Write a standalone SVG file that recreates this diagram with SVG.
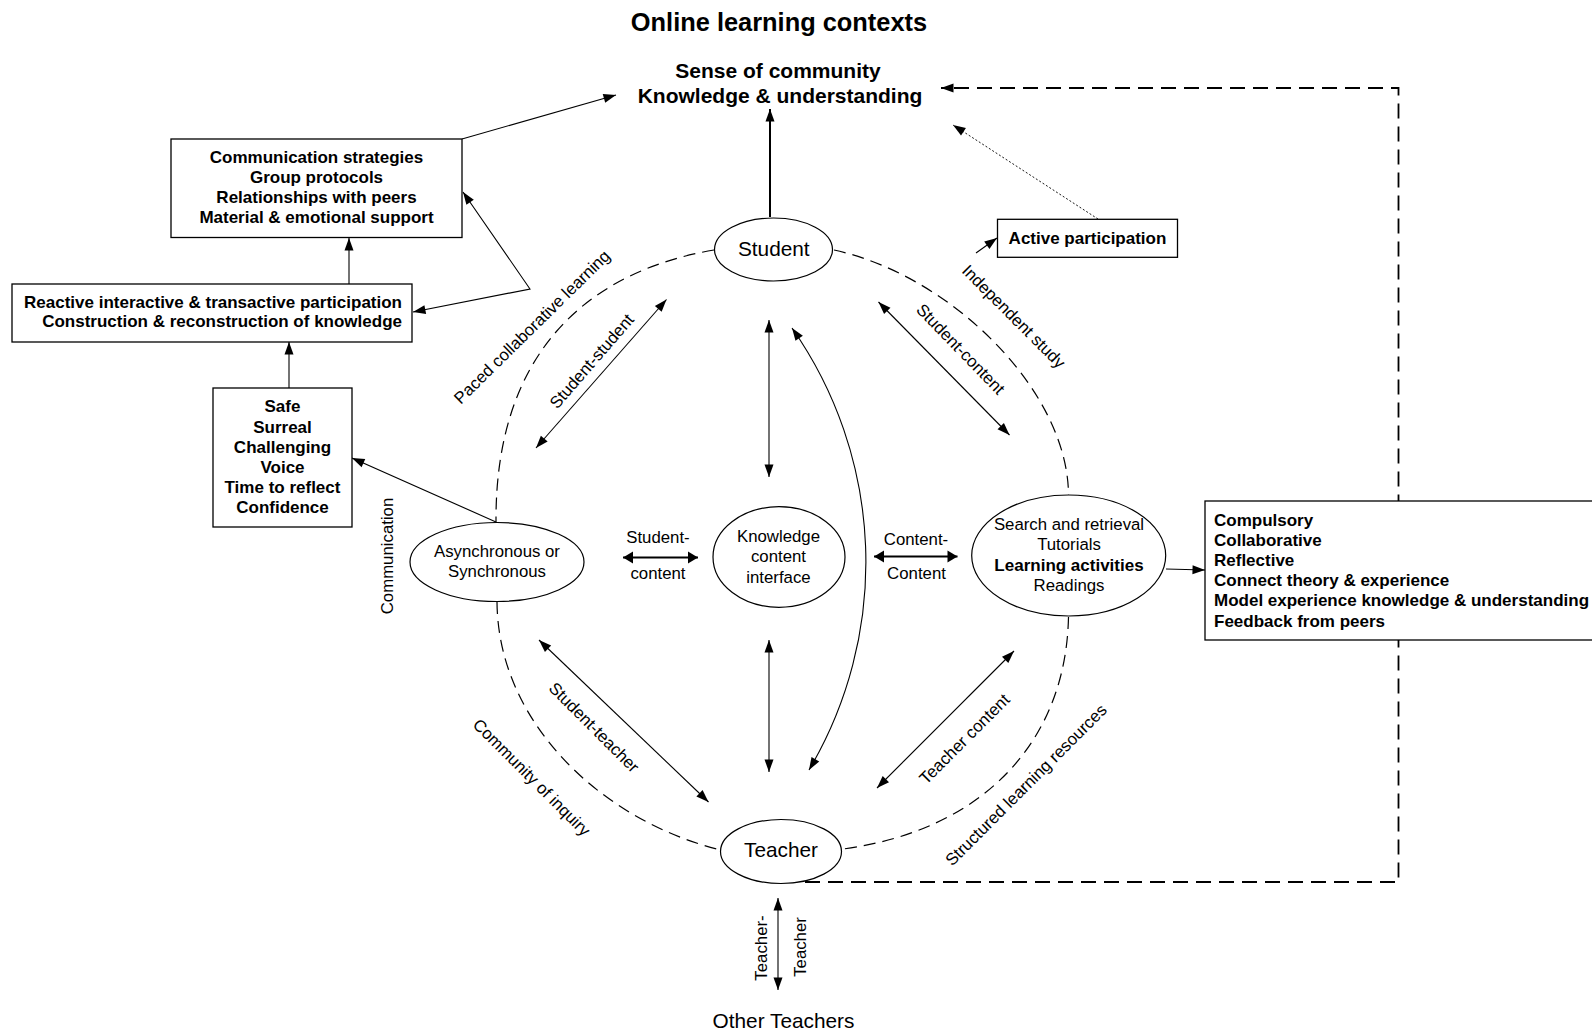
<svg xmlns="http://www.w3.org/2000/svg" width="1592" height="1036" viewBox="0 0 1592 1036">
  <style>
    text { font-family: "Liberation Sans", Arial, sans-serif; fill: #000; }
    .title { font-size: 25.4px; font-weight: bold; text-anchor: middle; }
    .goal { font-size: 21px; font-weight: bold; text-anchor: middle; }
    .big { font-size: 20.8px; text-anchor: middle; }
    .lbl { font-size: 16.8px; text-anchor: middle; }
    .bold { font-size: 17px; font-weight: bold; }
    .mid { text-anchor: middle; }
    .node { fill: #fff; stroke: #000; stroke-width: 1.2; }
    .box { fill: #fff; stroke: #000; stroke-width: 1.3; }
    .link { fill: none; stroke: #000; stroke-width: 1.1; }
    .thick { fill: none; stroke: #000; stroke-width: 2; }
    .ring { fill: none; stroke: #000; stroke-width: 1.2; stroke-dasharray: 12 7; }
    .loop { fill: none; stroke: #000; stroke-width: 1.8; stroke-dasharray: 15 8; }
    .dots { fill: none; stroke: #000; stroke-width: 0.9; stroke-dasharray: 2 2; }
  </style>
  <defs>
    <marker id="ah" markerUnits="userSpaceOnUse" markerWidth="13" markerHeight="10" refX="12.5" refY="4.5" orient="auto-start-reverse" overflow="visible">
      <path d="M0,0 L12.5,4.5 L0,9 z" fill="#000"/>
    </marker>
    <marker id="ahw" markerUnits="userSpaceOnUse" markerWidth="11" markerHeight="12" refX="10" refY="6" orient="auto-start-reverse" overflow="visible">
      <path d="M0,0 L10,6 L0,12 z" fill="#000"/>
    </marker>
  </defs>

  <rect width="1592" height="1036" fill="#fff"/>

  <!-- headings -->
  <text class="title" x="779" y="31">Online learning contexts</text>
  <g id="outcomes">
    <text class="goal" x="778" y="78">Sense of community</text>
    <text class="goal" x="780" y="103">Knowledge &amp; understanding</text>
  </g>

  <!-- connectors -->
  <g id="connectors">
    <!-- dashed ring linking the four modes -->
    <path class="ring" d="M714,250 C585,272 495,355 496,522"/>
    <path class="ring" d="M497,602 C498,725 605,822 721,850"/>
    <path class="ring" d="M834,250 C950,275 1068,390 1068.5,495"/>
    <path class="ring" d="M1068.5,617 C1066,740 985,830 843,849"/>

    <!-- feedback loop back to outcomes -->
    <polyline class="loop" points="782,882 1398.5,882 1398.5,88 941,88" marker-end="url(#ah)"/>

    <!-- student to outcomes -->
    <line class="thick" x1="770" y1="217" x2="770" y2="109" marker-end="url(#ah)"/>

    <!-- left chain -->
    <line class="link" x1="462" y1="139" x2="616" y2="95" marker-end="url(#ah)"/>
    <line class="link" x1="349" y1="284" x2="349" y2="238" marker-end="url(#ah)"/>
    <polyline class="link" points="463,192 530,289 413,312" marker-start="url(#ah)" marker-end="url(#ah)"/>
    <line class="link" x1="289" y1="388" x2="289" y2="342" marker-end="url(#ah)"/>
    <line class="link" x1="496" y1="522" x2="352" y2="458" marker-end="url(#ah)"/>

    <!-- active participation -->
    <line class="link" x1="976" y1="253" x2="997" y2="238" marker-end="url(#ah)"/>
    <line class="dots" x1="1098" y1="219" x2="953" y2="125" marker-end="url(#ah)"/>

    <!-- interactions inside the ring -->
    <line class="link" x1="536" y1="448" x2="666.5" y2="299.5" marker-start="url(#ah)" marker-end="url(#ah)"/>
    <line class="link" x1="878.5" y1="302" x2="1009.5" y2="435" marker-start="url(#ah)" marker-end="url(#ah)"/>
    <line class="link" x1="539" y1="640" x2="708.5" y2="802" marker-start="url(#ah)" marker-end="url(#ah)"/>
    <line class="link" x1="877" y1="788" x2="1014" y2="651" marker-start="url(#ah)" marker-end="url(#ah)"/>
    <line class="link" x1="769" y1="320" x2="769" y2="477" marker-start="url(#ah)" marker-end="url(#ah)"/>
    <line class="link" x1="769" y1="640" x2="769" y2="772" marker-start="url(#ah)" marker-end="url(#ah)"/>
    <path class="link" d="M792,328 A408,408 0 0 1 809,770" marker-start="url(#ah)" marker-end="url(#ah)"/>
    <line class="thick" x1="623" y1="557.5" x2="698" y2="557.5" marker-start="url(#ahw)" marker-end="url(#ahw)"/>
    <line class="thick" x1="874" y1="556.5" x2="957.5" y2="556.5" marker-start="url(#ahw)" marker-end="url(#ahw)"/>
    <line class="link" x1="1166" y1="569" x2="1205" y2="570" marker-end="url(#ah)"/>

    <!-- teacher to other teachers -->
    <line class="link" x1="778" y1="898" x2="778" y2="990" stroke-width="1.4" marker-start="url(#ah)" marker-end="url(#ah)"/>

    <!-- connector labels -->
    <text class="lbl" transform="translate(536,331) rotate(-44.5)">Paced collaborative learning</text>
    <text class="lbl" transform="translate(596,365) rotate(-49)">Student-student</text>
    <text class="lbl" transform="translate(956.5,353) rotate(46)">Student-content</text>
    <text class="lbl" transform="translate(1009.7,320.5) rotate(45)">Independent study</text>
    <text class="lbl" transform="translate(392.5,556) rotate(-90)">Communication</text>
    <text class="lbl" transform="translate(527.6,781.4) rotate(45)">Community of inquiry</text>
    <text class="lbl" transform="translate(590,731.4) rotate(45)">Student-teacher</text>
    <text class="lbl" transform="translate(968.5,743) rotate(-45)">Teacher content</text>
    <text class="lbl" transform="translate(1030,789) rotate(-45)">Structured learning resources</text>
    <text class="lbl" x="658" y="543.3">Student-</text>
    <text class="lbl" x="658" y="579.3">content</text>
    <text class="lbl" x="916" y="545">Content-</text>
    <text class="lbl" x="916.5" y="579.3">Content</text>
    <text class="lbl" transform="translate(767,948) rotate(-90)">Teacher-</text>
    <text class="lbl" transform="translate(806,947) rotate(-90)">Teacher</text>
  </g>

  <!-- boxes -->
  <g id="communication-box">
    <rect class="box" x="171" y="139" width="291" height="98.5"/>
    <text class="bold mid" x="316.5" y="163.3">Communication strategies</text>
    <text class="bold mid" x="316.5" y="183.3">Group protocols</text>
    <text class="bold mid" x="316.5" y="203.3">Relationships with peers</text>
    <text class="bold mid" x="316.5" y="223.3">Material &amp; emotional support</text>
  </g>

  <g id="participation-box">
    <rect class="box" x="12" y="284" width="400" height="58"/>
    <text class="bold" x="402" y="307.7" text-anchor="end">Reactive interactive &amp; transactive participation</text>
    <text class="bold" x="402" y="327.3" text-anchor="end">Construction &amp; reconstruction of knowledge</text>
  </g>

  <g id="qualities-box">
    <rect class="box" x="213" y="388" width="139" height="139"/>
    <text class="bold mid" x="282.5" y="411.7">Safe</text>
    <text class="bold mid" x="282.5" y="432.7">Surreal</text>
    <text class="bold mid" x="282.5" y="452.7">Challenging</text>
    <text class="bold mid" x="282.5" y="472.7">Voice</text>
    <text class="bold mid" x="282.5" y="493.3">Time to reflect</text>
    <text class="bold mid" x="282.5" y="513.3">Confidence</text>
  </g>

  <g id="active-participation">
    <rect class="box" x="997.5" y="219.3" width="180" height="38"/>
    <text class="bold mid" x="1087.5" y="244.3">Active participation</text>
  </g>

  <g id="activity-features">
    <rect class="box" x="1205" y="501" width="420" height="139"/>
    <text class="bold" x="1214" y="525.5">Compulsory</text>
    <text class="bold" x="1214" y="545.7">Collaborative</text>
    <text class="bold" x="1214" y="565.9">Reflective</text>
    <text class="bold" x="1214" y="586.1">Connect theory &amp; experience</text>
    <text class="bold" x="1214" y="606.3">Model experience knowledge &amp; understanding</text>
    <text class="bold" x="1214" y="626.5">Feedback from peers</text>
  </g>

  <!-- ellipse nodes -->
  <g id="student">
    <ellipse class="node" cx="773.5" cy="249.5" rx="59" ry="31.5"/>
    <text class="big" x="773.8" y="256">Student</text>
  </g>

  <g id="teacher">
    <ellipse class="node" cx="781" cy="851.5" rx="60.5" ry="32"/>
    <text class="big" x="781" y="857.3">Teacher</text>
  </g>

  <g id="mode">
    <ellipse class="node" cx="497" cy="562" rx="87" ry="39.5"/>
    <text class="lbl" x="497" y="556.7">Asynchronous or</text>
    <text class="lbl" x="497" y="577.3">Synchronous</text>
  </g>

  <g id="knowledge-interface">
    <ellipse class="node" cx="779" cy="557" rx="66" ry="50.3"/>
    <text class="lbl" x="778.5" y="541.7">Knowledge</text>
    <text class="lbl" x="778.5" y="562.3">content</text>
    <text class="lbl" x="778.5" y="582.7">interface</text>
  </g>

  <g id="learning-activities">
    <ellipse class="node" cx="1068.7" cy="555.5" rx="97" ry="60.5"/>
    <text class="lbl" x="1069" y="530">Search and retrieval</text>
    <text class="lbl" x="1069" y="550.3">Tutorials</text>
    <text class="bold mid" x="1069" y="570.5">Learning activities</text>
    <text class="lbl" x="1069" y="590.7">Readings</text>
  </g>

  <g id="other-teachers">
    <text class="big" x="783.5" y="1028">Other Teachers</text>
  </g>
</svg>
